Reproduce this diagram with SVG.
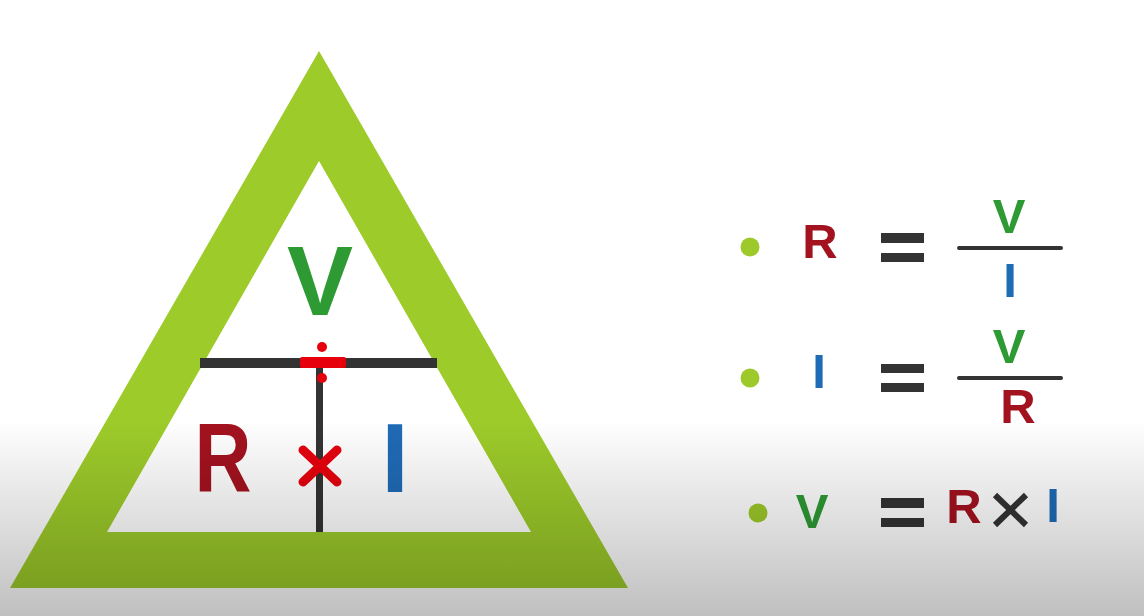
<svg xmlns="http://www.w3.org/2000/svg" width="1144" height="616" viewBox="0 0 1144 616">
  <defs>
    <linearGradient id="shade" x1="0" y1="0" x2="0" y2="1">
      <stop offset="0" stop-color="#000" stop-opacity="0"/>
      <stop offset="1" stop-color="#000" stop-opacity="0.25"/>
    </linearGradient>
  </defs>
  <style>
    .t { font-family: "Liberation Sans", Arial, sans-serif; font-weight: bold; text-anchor: middle; }
    .big { font-size: 99px; }
    .sm { font-size: 49px; }
    .g { fill: #2e9a34; }
    .r { fill: #a3121f; }
    .b { fill: #1f6bb6; }
    .dot { fill: #9dc92a; }
    .eq { fill: #333333; }
    .red { fill: #e6000c; }
  </style>
  <rect x="0" y="0" width="1144" height="616" fill="#ffffff"/>

  <g id="triangle">
    <path d="M319 51 L628 588 L10 588 Z M319 161 L107 532 L531 532 Z" fill="#9dcb2a" fill-rule="evenodd"/>
  </g>

  <g id="connectors">
    <rect x="200" y="358" width="237" height="10" fill="#333333"/>
    <rect x="316" y="363" width="7" height="169" fill="#333333"/>
  </g>

  <g id="divide-sign">
    <rect x="300" y="357" width="46" height="11" rx="2" class="red"/>
    <circle cx="322" cy="347" r="5" class="red"/>
    <circle cx="322" cy="378" r="5" class="red"/>
  </g>

  <g id="times-sign">
    <path d="M303 450 L337 482 M337 450 L303 482" stroke="#e6000c" stroke-width="9" stroke-linecap="round"/>
  </g>

  <g id="node-V"><text class="t big g" x="320" y="315">V</text></g>
  <g id="node-R"><text class="t big r" x="223" y="492" textLength="57" lengthAdjust="spacingAndGlyphs">R</text></g>
  <g id="node-I"><text class="t big b" x="395" y="492">I</text></g>

  <g id="formula-R">
    <circle cx="750" cy="247" r="9.5" class="dot"/>
    <text class="t sm r" x="820" y="258">R</text>
    <rect x="881" y="233" width="43" height="10" class="eq"/>
    <rect x="881" y="253" width="43" height="9" class="eq"/>
    <text class="t sm g" x="1009" y="233">V</text>
    <rect x="957" y="246" width="106" height="4" rx="2" class="eq"/>
    <text class="t sm b" x="1010" y="297">I</text>
  </g>

  <g id="formula-I">
    <circle cx="750" cy="378" r="9.5" class="dot"/>
    <text class="t sm b" x="819" y="388">I</text>
    <rect x="881" y="364" width="43" height="9" class="eq"/>
    <rect x="881" y="383" width="43" height="9" class="eq"/>
    <text class="t sm g" x="1009" y="363">V</text>
    <rect x="957" y="376" width="106" height="4" rx="2" class="eq"/>
    <text class="t sm r" x="1018" y="423">R</text>
  </g>

  <g id="formula-V">
    <circle cx="758" cy="513" r="9.5" class="dot"/>
    <text class="t sm g" x="812" y="528">V</text>
    <rect x="881" y="498" width="43" height="10" class="eq"/>
    <rect x="881" y="518" width="43" height="9" class="eq"/>
    <text class="t sm r" x="964" y="523">R</text>
    <path d="M995 495 L1026 525 M1026 495 L995 525" stroke="#333333" stroke-width="6"/>
    <text class="t sm b" x="1053" y="522">I</text>
  </g>

  <rect x="0" y="420" width="1144" height="196" fill="url(#shade)" pointer-events="none"/>
</svg>
